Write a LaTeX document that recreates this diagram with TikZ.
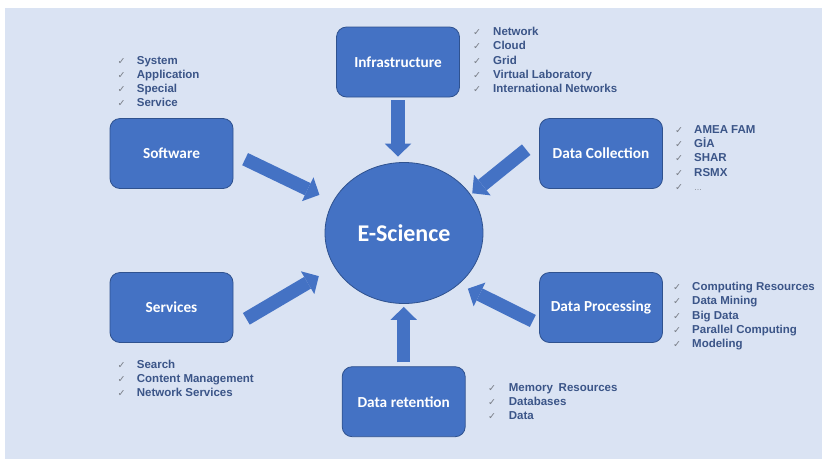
\documentclass[tikz,border=0pt]{standalone}
\usepackage{fontspec}
\setmainfont{Liberation Sans}
\newfontfamily\boxfont{Carlito}
\newfontfamily\checkfont{DejaVu Sans}
\usetikzlibrary{shapes.geometric,arrows.meta}
\definecolor{bg}{HTML}{DAE3F3}
\definecolor{boxblue}{HTML}{4472C4}
\definecolor{boxedge}{HTML}{2F528F}
\definecolor{listtext}{HTML}{3B5588}
\definecolor{checkgray}{HTML}{7A7F88}
\newcommand\chk{{\checkfont\fontsize{9.5}{11}\selectfont\color{checkgray}✓}}
\newcommand\itemlist[6]{%
  \foreach \itm [count=\i] in {#6} {%
    \node[listitem] (#1\i) at (#2, {#4+(\i-1)*#5}) {\makebox[\dimexpr#3pt-#2pt\relax][l]{\chk}\itm};
  }%
}
\begin{document}
\begin{tikzpicture}[x=1pt,y=-1pt,
  block/.style={rectangle, rounded corners=10pt, fill=boxblue, draw=boxedge, line width=0.8pt,
    minimum width=123pt, minimum height=70pt, inner sep=0pt, text=white,
    font=\boxfont\bfseries\fontsize{15.3}{18}\selectfont},
  fat/.style={draw=boxblue, line width=13.5pt, -{Triangle[width=26.5pt,length=13pt,line width=0pt]}},
  listitem/.style={anchor=base west, inner sep=0pt, text=listtext,
    font=\bfseries\fontsize{11.5}{14}\selectfont}]
\useasboundingbox (0,0) rectangle (822,459);
\fill[bg] (5,8) rectangle (822,459);

\node[ellipse, fill=boxblue, draw=boxedge, line width=0.8pt, minimum width=158pt, minimum height=141pt,
  inner sep=0pt, text=white, font=\boxfont\bfseries\fontsize{24}{28}\selectfont] (esci) at (404,233) {E-Science};

\node[block] (infra) at (398,62) {Infrastructure};
\node[block] (sw) at (171.5,153.5) {Software};
\node[block] (dc) at (601,153.5) {Data Collection};
\node[block] (sv) at (171.5,307.5) {Services};
\node[block] (dp) at (601,307.5) {Data Processing};
\node[block] (dret) at (403.7,401.7) {Data retention};

\draw[fat, shorten <=3pt, shorten >=5.5pt] (infra.south) -- (infra.south |- esci.north);
\draw[fat, shorten <=4pt, shorten >=3pt] (dret.north) -- (dret.north |- esci.south);
\draw[fat, shorten <=13pt, shorten >=15pt] (sw.east) -- (esci.156);
\draw[fat, shorten <=16.6pt, shorten >=2pt] (dc.167) -- (esci.30);
\draw[fat, shorten <=15pt, shorten >=18pt] (sv.-17) -- (esci.206);
\draw[fat, shorten <=7pt, shorten >=10pt] (dp.195) -- (esci.-43);

\itemlist{inf}{473}{493}{35.8}{14.1}{Network,Cloud,Grid,Virtual Laboratory,International Networks}
\itemlist{swl}{117.5}{136.7}{64.8}{14}{System,Application,Special,Service}
\itemlist{dcl}{675}{694}{133}{14.4}{AMEA FAM,GİA,SHAR,RSMX,{\textcolor{checkgray}{\mdseries\fontsize{8}{10}\selectfont\ldots}}}
\itemlist{dpl}{673}{692}{290.8}{14.15}{Computing Resources,Data Mining,Big Data,Parallel Computing,Modeling}
\itemlist{drl}{488}{508.7}{391.8}{14}{Memory\enspace Resources,Databases,Data}
\itemlist{svl}{117.5}{136.7}{368.4}{14.2}{Search,Content Management,Network Services}
\end{tikzpicture}
\end{document}
